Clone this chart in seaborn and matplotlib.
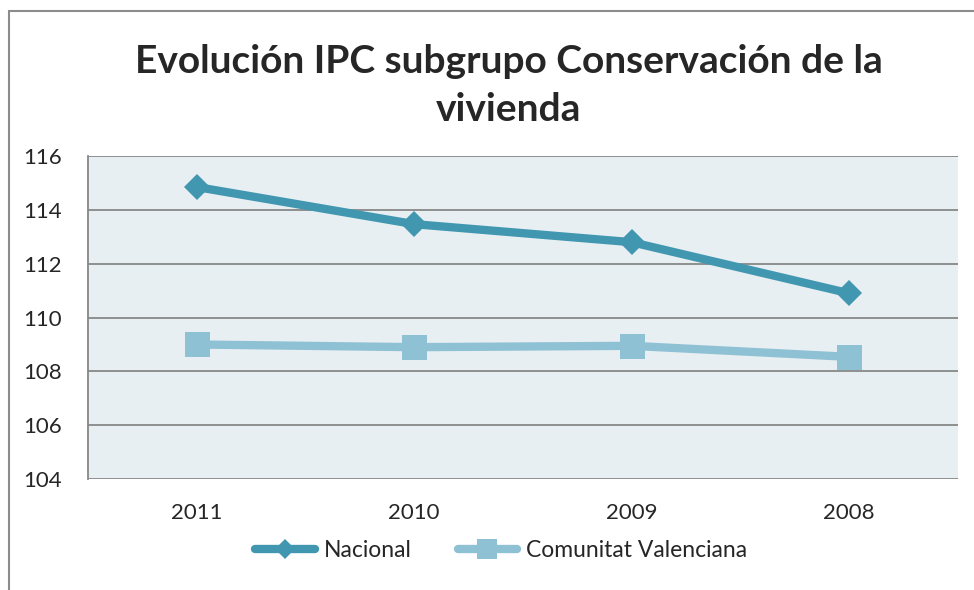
import matplotlib
matplotlib.use("Agg")
import matplotlib.pyplot as plt
import seaborn as sns
import pandas as pd
from matplotlib.patches import Rectangle

# data
years = ['2011', '2010', '2009', '2008']
nacional = [114.85, 113.47, 112.8, 110.9]
comunitat = [109.0, 108.9, 108.95, 108.54]
series_names = ['Nacional', 'Comunitat Valenciana']
yticks = [104, 106, 108, 110, 112, 114, 116]

colors = {'Nacional': '#4197B0', 'Comunitat Valenciana': '#8FC1D4'}
markers = {'Nacional': 'D', 'Comunitat Valenciana': 's'}
msizes = {'Nacional': 13, 'Comunitat Valenciana': 18}

df = pd.DataFrame({
    'Year': years * 2,
    'Value': nacional + comunitat,
    'Serie': [series_names[0]] * len(years) + [series_names[1]] * len(years),
})

sns.set_style("white")
plt.rcParams['font.family'] = ['Lato', 'DejaVu Sans']

fig = plt.figure(figsize=(9.74, 5.9), dpi=100)
ax = fig.add_axes([0.0903, 0.188, 0.8933, 0.5475])
ax.set_facecolor('#E8EFF3')

for name in series_names:
    sub = df[df['Serie'] == name]
    sns.lineplot(ax=ax, data=sub, x='Year', y='Value', label=name,
                 color=colors[name], marker=markers[name],
                 markersize=msizes[name], markeredgewidth=0,
                 linewidth=6, solid_capstyle='round', sort=False)

ax.set_ylim(104, 116)
ax.set_yticks(yticks)
ax.set_xlim(-0.5, len(years) - 0.5)
ax.grid(axis='y', color='#878787', linewidth=1.3)
ax.set_axisbelow(True)
for side in ['left', 'top', 'right', 'bottom']:
    ax.spines[side].set_visible(False)
ax.spines['left'].set_visible(True)
ax.spines['left'].set_color('#878787')
ax.spines['left'].set_linewidth(1.3)
ax.tick_params(axis='both', labelsize=16, length=0)
ax.tick_params(axis='x', pad=17)
ax.tick_params(axis='y', pad=19)
ax.set_xlabel('')
ax.set_ylabel('')

fig.suptitle('Evolución IPC subgrupo Conservación de la\nvivienda',
             x=0.522, y=0.925, va='top', fontsize=28, fontweight='bold',
             linespacing=1.45)

ax.legend(loc='center', bbox_to_anchor=(0.475, -0.22), ncol=2, frameon=False,
          fontsize=16.5, handlelength=2.6, columnspacing=2.0, handletextpad=0.4,
          markerscale=0.8)

# outer chart border
fig.patches.append(Rectangle((9 / 974, -0.1), 1.2, 1.1 - 11 / 590,
                             transform=fig.transFigure, fill=False,
                             edgecolor='#8C8C8C', linewidth=1.5, clip_on=False))

fig.savefig('out.png', dpi=100)
